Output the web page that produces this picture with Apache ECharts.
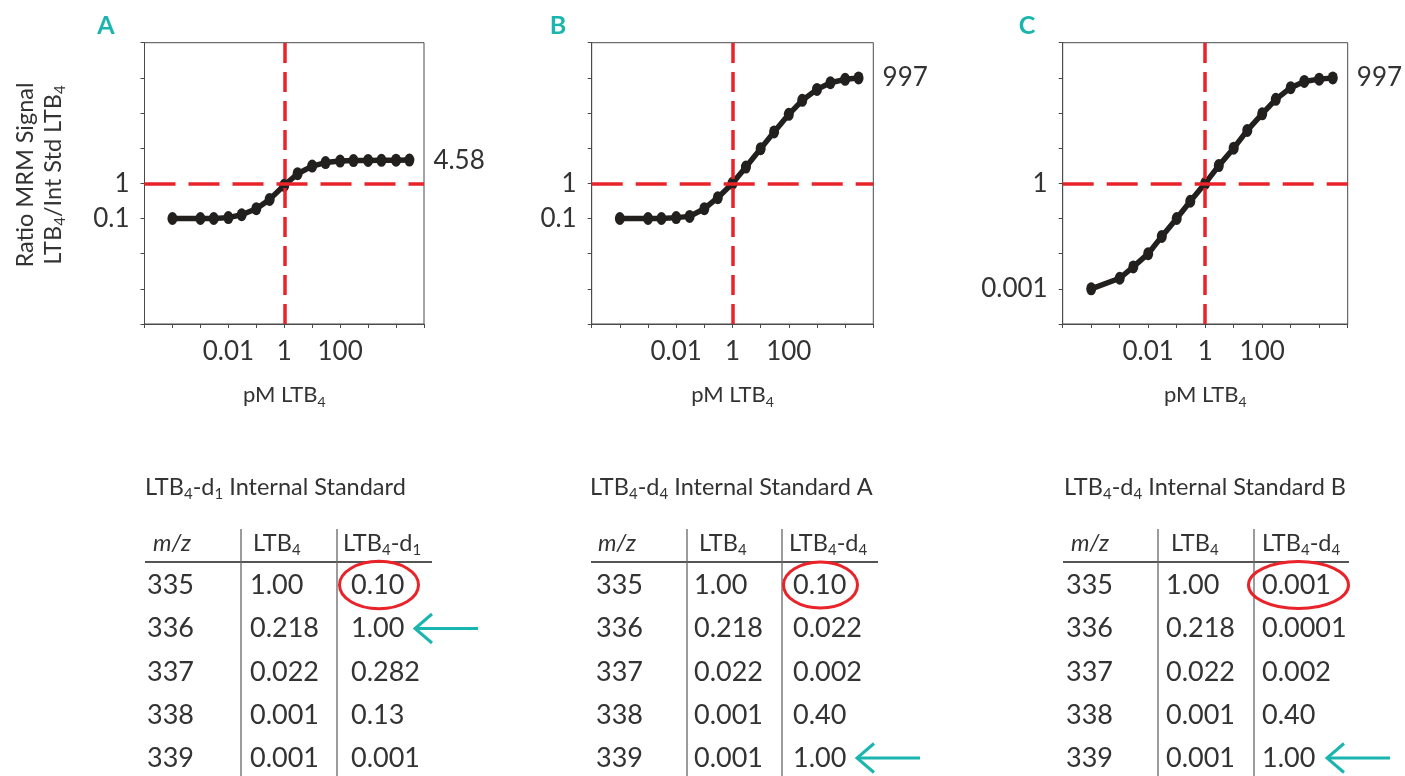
<!DOCTYPE html>
<html><head><meta charset="utf-8">
<script src="https://cdn.jsdelivr.net/npm/echarts@6/dist/echarts.min.js"></script>
<style>html,body{margin:0;padding:0;background:#fff}#c{width:1405px;height:776px}</style>
</head><body><div id="c"></div>
<script>
// ---------------- data ----------------
const panelLetters = ['A', 'B', 'C'];
const concentrations = [0.0001, 0.001, 0.003, 0.01, 0.03, 0.1, 0.3, 1, 3, 10, 30, 100, 300, 1000, 3000, 10000, 30000];
const ratioA = [0.1, 0.1, 0.1, 0.106, 0.128, 0.19, 0.35, 0.88, 1.88, 3.1, 3.9, 4.3, 4.45, 4.5, 4.53, 4.56, 4.58];
const ratioB = [0.1, 0.1, 0.1, 0.106, 0.115, 0.19, 0.39, 1.0, 2.9, 9.7, 29, 92, 229, 470, 725, 910, 997];
const ratioC = [0.001, 0.002, 0.0042, 0.01, 0.031, 0.1, 0.31, 1, 3.2, 10, 32, 95, 245, 525, 790, 920, 997];
const xTickValues = [0.01, 1, 100];
const xTickLabels = ['0.01', '1', '100'];
const yTickValuesAB = [0.1, 1];
const yTickLabelsAB = ['0.1', '1'];
const yTickValuesC = [0.001, 1];
const yTickLabelsC = ['0.001', '1'];
const xRange = [0.00001, 100000];
const yRange = [0.0001, 10000];
const refX = 1, refY = 1;
const xAxisTitle = 'pM LTB{s|4}';
const yAxisTitle = 'Ratio MRM Signal\nLTB{s|4}/Int Std LTB{s|4}';

const tableTitles = ['LTB{s|4}-d{s|1} Internal Standard', 'LTB{s|4}-d{s|4} Internal Standard A', 'LTB{s|4}-d{s|4} Internal Standard B'];
const tableHeaders = [
  ['{i|m/z}', 'LTB{s|4}', 'LTB{s|4}-d{s|1}'],
  ['{i|m/z}', 'LTB{s|4}', 'LTB{s|4}-d{s|4}'],
  ['{i|m/z}', 'LTB{s|4}', 'LTB{s|4}-d{s|4}']
];
const mzValues = ['335', '336', '337', '338', '339'];
const ltb4Abundance = ['1.00', '0.218', '0.022', '0.001', '0.001'];
const isAbundanceA = ['0.10', '1.00', '0.282', '0.13', '0.001'];
const isAbundanceB = ['0.10', '0.022', '0.002', '0.40', '1.00'];
const isAbundanceC = ['0.001', '0.0001', '0.002', '0.40', '1.00'];
const circledRows = [0, 0, 0];
const arrowRows = [1, 4, 4];

// ---------------- styles / layout ----------------
const FONT = 'Lato';
const TXT = '#333333';
const AX = '#4a4a4a';
const RED = '#e8232a';
const TEAL = '#1bb5b0';
const INK = '#221f1f';

const grids = [
  {left: 144.5, top: 42.7, width: 279.5, height: 281.3},
  {left: 591.7, top: 42.7, width: 281.6, height: 281.3},
  {left: 1062.7, top: 42.7, width: 285, height: 281.3}
];
const letterPos = [[106, 26], [558, 26], [1027, 26]];
const tables = [
  {titleX: 145, lines: [241, 337], lineStart: 145, lineEnd: 432, cols: [147, 250, 351], headCols: [153, 253, 343],
   ellipse: {cx: 379, rx: 39.5, ry: 23.7}, arrow: {tip: 415, tail: 478}},
  {titleX: 590, lines: [687, 782], lineStart: 591, lineEnd: 878, cols: [596, 694, 793], headCols: [598, 699, 789],
   ellipse: {cx: 820.5, rx: 37, ry: 23}, arrow: {tip: 857, tail: 920}},
  {titleX: 1064, lines: [1158, 1254], lineStart: 1063, lineEnd: 1349, cols: [1066, 1166, 1262], headCols: [1071, 1171, 1262],
   ellipse: {cx: 1298.5, rx: 50, ry: 23.5}, arrow: {tip: 1327, tail: 1390}}
];
const titleY = 487, headerY = 543, headerLineY = 562, vLineTop = 529;
const rowY = [585, 628.5, 672, 715.5, 758];
const HF = 23.5; // heading font size

const subRich = {
  s: {fontFamily: FONT, fontSize: 14, padding: [14, 0, 0, 0], lineHeight: 30, color: TXT}
};
const gSubRich = {
  s: {fontFamily: FONT, fontSize: 15, padding: [14, 0, 0, 0], lineHeight: 30, fill: TXT},
  i: {fontFamily: FONT, fontSize: HF, fontStyle: 'italic', lineHeight: 30, fill: TXT}
};

const L = Math.log10;
const ratios = [ratioA, ratioB, ratioC];
const yTickSets = [[yTickValuesAB, yTickLabelsAB], [yTickValuesAB, yTickLabelsAB], [yTickValuesC, yTickLabelsC]];
const isCols = [isAbundanceA, isAbundanceB, isAbundanceC];

function labelFor(values, labels) {
  return function (v) {
    for (let j = 0; j < values.length; j++) {
      if (Math.abs(L(values[j]) - v) < 1e-9) return labels[j];
    }
    return '';
  };
}

const xAxes = [], yAxes = [], series = [];
grids.forEach((g, i) => {
  xAxes.push({
    type: 'value', gridIndex: i, min: L(xRange[0]), max: L(xRange[1]), interval: 1, position: 'bottom',
    axisLine: {show: true, onZero: false, lineStyle: {color: AX, width: 1}},
    axisTick: {show: true, inside: false, length: 4, lineStyle: {color: AX, width: 1}},
    splitLine: {show: false},
    axisLabel: {formatter: labelFor(xTickValues, xTickLabels), fontFamily: FONT, fontSize: 26, color: TXT, margin: 15},
    name: xAxisTitle, nameLocation: 'middle', nameGap: 56,
    nameTextStyle: {fontFamily: FONT, fontSize: 22, color: TXT, lineHeight: 30, rich: subRich}
  });
  yAxes.push({
    type: 'value', gridIndex: i, min: L(yRange[0]), max: L(yRange[1]), interval: 1, position: 'left',
    axisLine: {show: true, onZero: false, lineStyle: {color: AX, width: 1}},
    axisTick: {show: true, inside: false, length: 4, lineStyle: {color: AX, width: 1}},
    splitLine: {show: false},
    axisLabel: {formatter: labelFor(yTickSets[i][0], yTickSets[i][1]), fontFamily: FONT, fontSize: 26, color: TXT, margin: 15}
  });
  const r = ratios[i];
  const last = concentrations.length - 1;
  series.push({
    type: 'line', xAxisIndex: i, yAxisIndex: i,
    symbol: 'circle', symbolSize: [10, 13], showSymbol: true,
    lineStyle: {color: INK, width: 5.5}, itemStyle: {color: INK},
    animation: false, z: 2,
    data: concentrations.map((c, k) => {
      const item = {value: [L(c), L(r[k])]};
      if (k === last) {
        item.label = {show: true, position: 'right', distance: 19, formatter: String(r[k]),
          fontFamily: FONT, fontSize: 26, color: TXT};
      }
      return item;
    }),
    markLine: {
      silent: true, symbol: ['none', 'none'], label: {show: false}, animation: false,
      lineStyle: {color: RED, width: 3.5},
      data: [
        {xAxis: L(refX), lineStyle: {color: RED, width: 3.5, type: [20, 9]}},
        {yAxis: L(refY), lineStyle: {color: RED, width: 3.5, type: [31, 13]}}
      ]
    }
  });
});

// ---------------- graphic: letters, y title, tables ----------------
const graphic = [];
panelLetters.forEach((t, i) => {
  graphic.push({type: 'text', x: letterPos[i][0], y: letterPos[i][1],
    style: {text: t, fontFamily: FONT, fontSize: 25, fontWeight: 'bold', fill: TEAL, align: 'center', verticalAlign: 'middle'}});
});
graphic.push({type: 'text', x: 39, y: 175, rotation: Math.PI / 2,
  style: {text: yAxisTitle, fontFamily: FONT, fontSize: 23.5, fill: TXT, lineHeight: 28, align: 'center', verticalAlign: 'middle',
    rich: {s: {fontFamily: FONT, fontSize: 15, padding: [14, 0, 0, 0], lineHeight: 28, fill: TXT}}}});

tables.forEach((tb, i) => {
  graphic.push({type: 'text', x: tb.titleX, y: titleY,
    style: {text: tableTitles[i], fontFamily: FONT, fontSize: HF, fill: TXT, lineHeight: 30, align: 'left', verticalAlign: 'middle', rich: gSubRich}});
  tableHeaders[i].forEach((h, j) => {
    graphic.push({type: 'text', x: tb.headCols[j], y: headerY,
      style: {text: h, fontFamily: FONT, fontSize: HF, fill: TXT, lineHeight: 30, align: 'left', verticalAlign: 'middle', rich: gSubRich}});
  });
  graphic.push({type: 'line', shape: {x1: tb.lineStart, y1: headerLineY, x2: tb.lineEnd, y2: headerLineY},
    style: {stroke: '#555', lineWidth: 2}});
  tb.lines.forEach(x => {
    graphic.push({type: 'line', shape: {x1: x, y1: vLineTop, x2: x, y2: 776},
      style: {stroke: '#666', lineWidth: 1.3}});
  });
  const cols = [mzValues, ltb4Abundance, isCols[i]];
  cols.forEach((col, j) => {
    col.forEach((v, k) => {
      graphic.push({type: 'text', x: tb.cols[j], y: rowY[k],
        style: {text: v, fontFamily: FONT, fontSize: 27, fill: TXT, align: 'left', verticalAlign: 'middle'}});
    });
  });
  const ey = rowY[circledRows[i]];
  graphic.push({type: 'ellipse', shape: {cx: tb.ellipse.cx, cy: ey, rx: tb.ellipse.rx, ry: tb.ellipse.ry},
    style: {fill: 'none', stroke: RED, lineWidth: 3}});
  const ay = rowY[arrowRows[i]];
  graphic.push({type: 'polyline', shape: {points: [[tb.arrow.tail, ay], [tb.arrow.tip + 1, ay]]},
    style: {fill: 'none', stroke: TEAL, lineWidth: 3}});
  graphic.push({type: 'polyline', shape: {points: [[tb.arrow.tip + 17, ay - 14.5], [tb.arrow.tip, ay], [tb.arrow.tip + 17, ay + 14.5]]},
    style: {fill: 'none', stroke: TEAL, lineWidth: 3}});
});

const chart = echarts.init(document.getElementById('c'), null, {renderer: 'canvas'});
chart.setOption({
  backgroundColor: '#ffffff',
  animation: false,
  grid: grids.map(g => Object.assign({show: true, borderColor: AX, borderWidth: 1, backgroundColor: 'transparent', containLabel: false}, g)),
  xAxis: xAxes,
  yAxis: yAxes,
  series: series,
  graphic: graphic
});
</script>
</body></html>
